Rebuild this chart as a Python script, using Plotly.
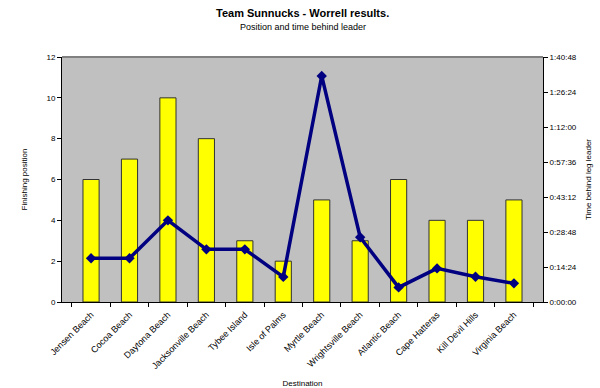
import plotly.graph_objects as go

destinations = ["Jensen Beach", "Cocoa Beach", "Daytona Beach", "Jacksonville Beach",
                "Tybee Island", "Isle of Palms", "Myrtle Beach", "Wrightsville Beach",
                "Atlantic Beach", "Cape Hatteras", "Kill Devil Hills", "Virginia Beach"]
finishing_position = [6, 7, 10, 8, 3, 2, 5, 3, 6, 4, 4, 5]
time_behind = ["0:18:00", "0:18:00", "0:33:36", "0:21:40", "0:21:40", "0:10:20",
               "1:33:00", "0:26:40", "0:06:00", "0:13:50", "0:10:25", "0:07:40"]
time_ticks = ["0:00:00", "0:14:24", "0:28:48", "0:43:12", "0:57:36", "1:12:00", "1:26:24", "1:40:48"]


def to_sec(s):
    h, m, sec = (int(v) for v in s.split(":"))
    return h * 3600 + m * 60 + sec


time_sec = [to_sec(t) for t in time_behind]
tick_sec = [to_sec(t) for t in time_ticks]

font = "Liberation Sans, Arial, sans-serif"
T, B, L, R = 57, 86, 62, 57
plot_h = 388 - T - B

fig = go.Figure()
fig.add_trace(go.Bar(
    x=destinations, y=finishing_position,
    marker=dict(color="#FFFF00", line=dict(color="#333333", width=1)),
    width=0.42, yaxis="y", name="Finishing position", showlegend=False,
))
fig.add_trace(go.Scatter(
    x=destinations, y=time_sec, yaxis="y2", mode="lines+markers",
    line=dict(color="#000080", width=3.5),
    marker=dict(symbol="diamond", size=8, color="#000080"),
    name="Time behind leg leader", showlegend=False,
))

fig.update_layout(
    width=600, height=388,
    margin=dict(l=L, r=R, t=T, b=B, autoexpand=False),
    paper_bgcolor="white", plot_bgcolor="#C0C0C0",
    font=dict(family=font, size=8, color="black"),
    xaxis=dict(
        automargin=False,
        tickangle=-45, showline=True, linecolor="black", linewidth=1,
        ticks="outside", ticklen=4, tickcolor="black", tickson="boundaries",
        showgrid=False, tickfont=dict(size=9), ticklabelstandoff=3,
        title=dict(text="Destination", font=dict(size=8), standoff=10),
    ),
    yaxis=dict(
        automargin=False,
        range=[0, 12], tickvals=[0, 2, 4, 6, 8, 10, 12], showgrid=False,
        showline=True, linecolor="black", linewidth=1, ticks="outside",
        ticklen=4, tickcolor="black", zeroline=False, tickfont=dict(size=8),
        title=dict(text="Finishing position", font=dict(size=8), standoff=17),
    ),
    yaxis2=dict(
        automargin=False,
        overlaying="y", side="right", range=[0, 6048], tickvals=tick_sec,
        ticktext=time_ticks, showgrid=False, showline=True, linecolor="black",
        linewidth=1, ticks="outside", ticklen=4, tickcolor="black",
        zeroline=False, tickfont=dict(size=8),
        title=dict(text="Time behind leg leader", font=dict(size=8), standoff=9),
    ),
    shapes=[dict(type="line", xref="paper", yref="paper", x0=0, x1=1, y0=1, y1=1,
                 line=dict(color="#808080", width=2))],
)
fig.add_annotation(text="<b>Team Sunnucks - Worrell results.</b>", x=0.5, xref="paper",
                   y=1 + (T - 13) / plot_h, yref="paper", showarrow=False,
                   font=dict(size=11), xanchor="center", yanchor="middle")
fig.add_annotation(text="Position and time behind leader", x=0.5, xref="paper",
                   y=1 + (T - 27) / plot_h, yref="paper", showarrow=False,
                   font=dict(size=9), xanchor="center", yanchor="middle")

fig.write_html("out.html", config={"displayModeBar": False},
               post_script="document.body.style.margin='0';")
